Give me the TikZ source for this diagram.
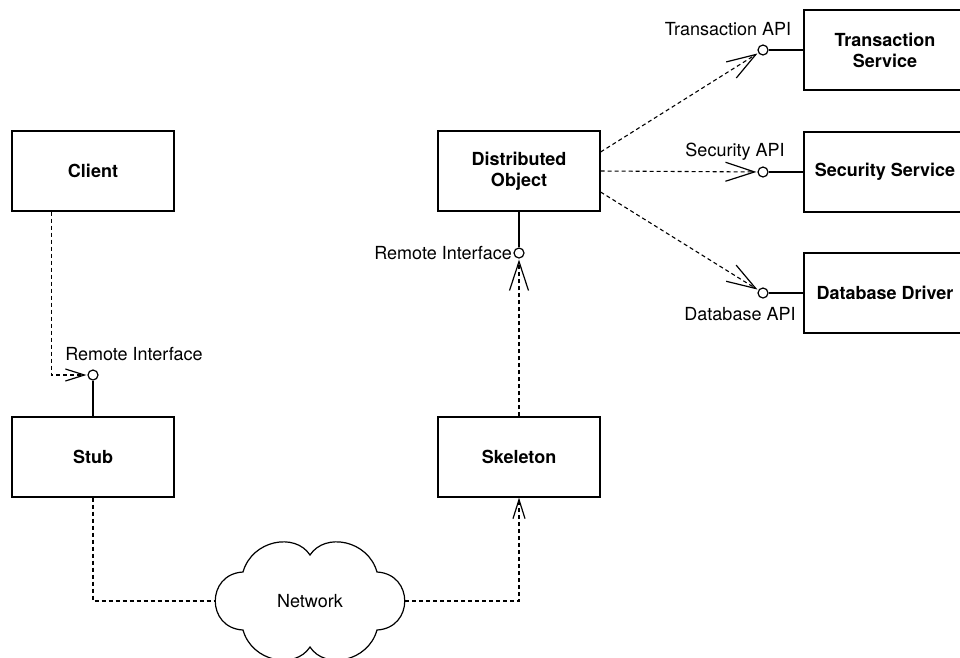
\documentclass[tikz,border=0pt]{standalone}
\usepackage{fontspec}
\setmainfont{TeX Gyre Heros}
\usetikzlibrary{arrows.meta,calc}
\begin{document}
\begin{tikzpicture}[x=1pt,y=-1pt,
  font=\fontsize{18}{21}\selectfont,
  box/.style={draw,line width=1.2pt,minimum width=162pt,minimum height=80pt,inner sep=0pt,align=center,font=\fontsize{18}{21}\selectfont\bfseries,fill=white},
  lolli/.style={draw,circle,line width=1.2pt,minimum size=10pt,inner sep=0pt,fill=white},
  dep/.style={line width=1.1pt,dash pattern=on 4pt off 3pt},
  bigtip/.style={-{Straight Barb[length=29pt,width=19pt,line width=1.2pt]}},
  smalltip/.style={-{Straight Barb[length=19pt,width=12pt,line width=1.2pt]}},
  solidline/.style={line width=1.2pt},
  lbl/.style={inner sep=0pt}]
\useasboundingbox (0,0) rectangle (960,657);

% boxes
\node[box] (client) at (93,171) {Client};
\node[box] (stub) at (93,457) {Stub};
\node[box] (do) at (519,171) {Distributed\\Object};
\node[box] (skel) at (519,457) {Skeleton};
\node[box] (ts) at (885,50) {Transaction\\Service};
\node[box] (ss) at (885,172) {Security Service};
\node[box] (dd) at (885,293) {Database Driver};

% lollipops
\node[lolli] (ri1) at (93,375) {};
\node[lolli] (ri2) at (519,253) {};
\node[lolli] (ta) at (763,50) {};
\node[lolli] (sa) at (763,172) {};
\node[lolli] (da) at (763,293) {};

% labels
\node[lbl] (l1) at (134,354) {Remote Interface};
\node[lbl,anchor=east] (l2) at (512,253) {Remote Interface};
\node[lbl] (l3) at (728,29) {Transaction API};
\node[lbl] (l4) at (735,152) {Security API};
\node[lbl] (l5) at (740,314) {Database API};

% cloud
\draw[solidline,fill=white] (243,572)
  .. controls (252,540) and (295,532) .. (310,555)
  .. controls (325,532) and (368,540) .. (377,572)
  .. controls (414,574) and (414,628) .. (377,630)
  .. controls (368,662) and (325,670) .. (310,647)
  .. controls (295,670) and (252,662) .. (243,630)
  .. controls (206,628) and (206,574) .. cycle;
\node (net) at (310,601) {Network};
\coordinate (cw) at (215,601);
\coordinate (ce) at (405,601);

% connectors
\draw[dep,smalltip,shorten >=1pt] ($(client.south west)+(40,0)$) |- (ri1);
\draw[solidline] (ri1) -- (stub);
\draw[dep] (stub.south) |- (cw);
\draw[dep,smalltip] (ce) -| (skel.south);
\draw[dep,bigtip,shorten >=1pt] (skel.north) -- (ri2);
\draw[solidline] (ri2) -- (do);
\draw[dep,bigtip,shorten >=1pt] ($(do.east)+(0,-19)$) -- (ta);
\draw[dep,bigtip,shorten >=1pt] (do.east) -- (sa);
\draw[dep,bigtip,shorten >=1pt] ($(do.east)+(0,21)$) -- (da);
\draw[solidline] (ta) -- (ts);
\draw[solidline] (sa) -- (ss);
\draw[solidline] (da) -- (dd);
\end{tikzpicture}
\end{document}
